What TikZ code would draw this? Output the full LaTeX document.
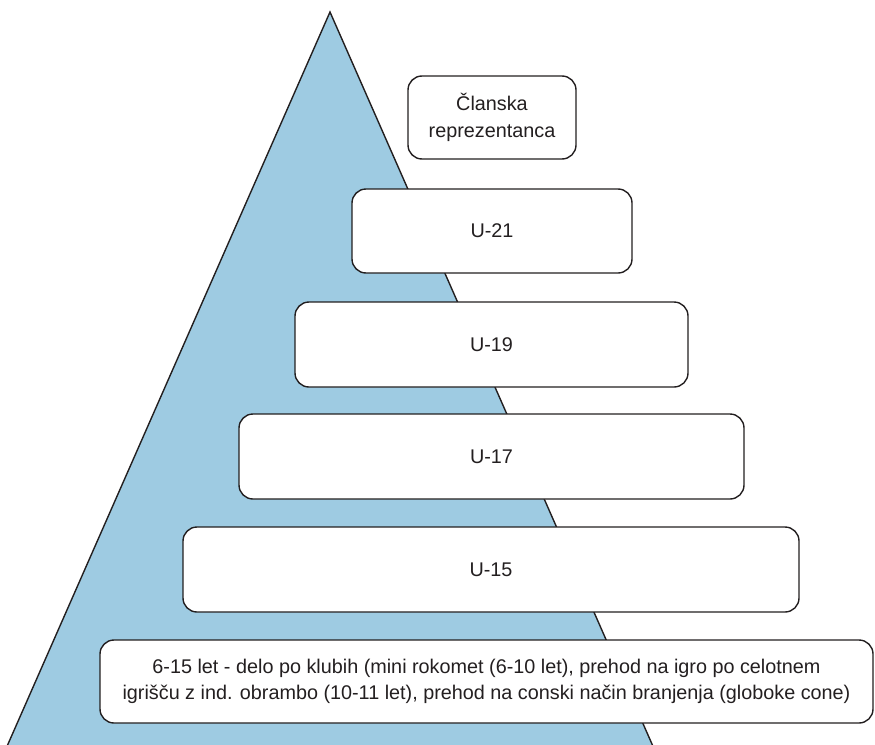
\documentclass[tikz,border=0pt]{standalone}
\usepackage{fontspec}
\setmainfont{Liberation Sans}
\definecolor{pyrblue}{RGB}{158,203,226}
\definecolor{edge}{RGB}{35,31,32}
\begin{document}
\begin{tikzpicture}[x=1pt,y=-1pt,
  lvl/.style={draw=edge, line width=1.4pt, fill=white, rounded corners=14pt},
  lbl/.style={font=\fontsize{19.8}{26.5}\selectfont, align=center, text=edge}]
\useasboundingbox (0,0) rectangle (875,744);
\begin{scope}
\clip (0,0) rectangle (875,744);
\draw[fill=pyrblue, draw=edge, line width=1.4pt] (330,12) -- (659,760) -- (1,760) -- cycle;
\end{scope}
\draw[lvl] (408,76) rectangle (576,159);
\node[lbl] (top) at (492,117.5) {Članska\\reprezentanca};
\draw[lvl] (352,189) rectangle (632,273);
\node[lbl] (u21) at (492,231) {U-21};
\draw[lvl] (295,302) rectangle (688,387);
\node[lbl] (u19) at (491.5,344.5) {U-19};
\draw[lvl] (239,414) rectangle (744,499);
\node[lbl] (u17) at (491.5,456.5) {U-17};
\draw[lvl] (183,527) rectangle (799,612);
\node[lbl] (u15) at (491,569.5) {U-15};
\draw[lvl] (100,640) rectangle (873,723);
\node[lbl] (base) at (486.5,681.5) {6-15 let - delo po klubih (mini rokomet (6-10 let), prehod na igro po celotnem\\igrišču z ind. obrambo (10-11 let), prehod na conski način branjenja (globoke cone)};
\end{tikzpicture}
\end{document}
